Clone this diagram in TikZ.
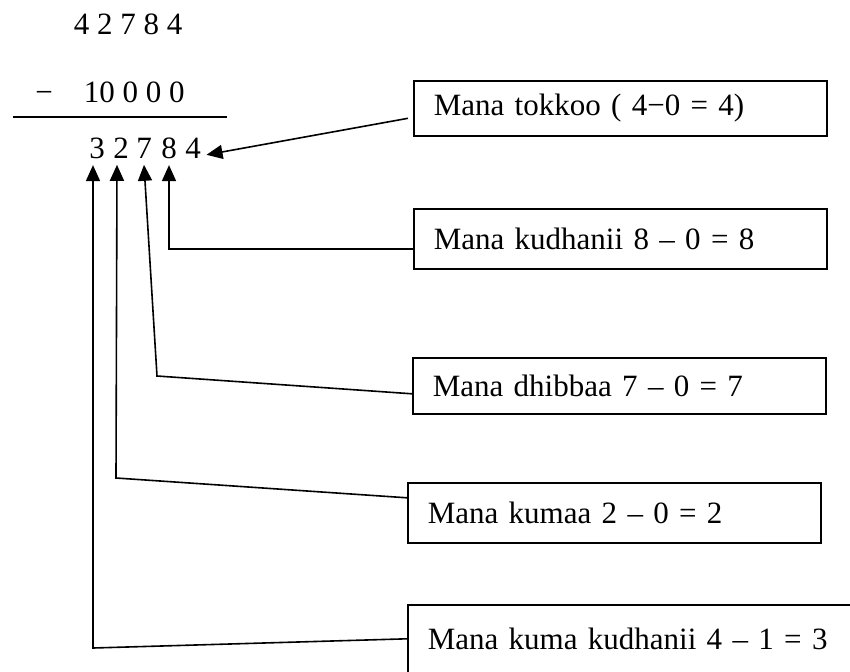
\documentclass[tikz,border=0pt]{standalone}
\usepackage{fontspec}
\setmainfont{Liberation Serif}
\usetikzlibrary{arrows.meta}

\begin{document}
\begin{tikzpicture}[x=1pt,y=-1pt,>={Triangle[length=16pt,width=14pt]},line width=1.6pt,
	font=\fontsize{31}{37}\selectfont,
	digit/.style={inner sep=5pt,anchor=base},
	box/.style={draw,anchor=north west,align=left,inner xsep=20pt,inner ysep=0pt}]
	\useasboundingbox (0,0) rectangle (850,671);
	\clip (0,0) rectangle (850,671);

	\node[anchor=base west,inner sep=0] (top) at (73,35) {4 2 7 8 4};
	\node[anchor=base,inner sep=0] (minus) at (44,103) {−};
	\node[anchor=base west,inner sep=0] (sub) at (83,103) {10 0 0 0};
	\draw (13,117) -- (227,117);
	\foreach \d/\x [count=\i] in {3/97,2/121,7/144,8/169,4/193}
		\node[digit] (r\i) at (\x,159) {\d};

	\node[box,text width=373pt,minimum height=55pt] (tok) at (413,80) {Mana tokkoo ( 4−0 = 4)};
	\node[box,text width=373pt,minimum height=60pt] (kud) at (413,208) {Mana kudhanii 8 – 0 = 8};
	\node[box,text width=373pt,minimum height=56pt] (dhi) at (412,357) {Mana dhibbaa 7 – 0 = 7};
	\node[box,text width=373pt,minimum height=60pt] (kum) at (407,482) {Mana kumaa 2 – 0 = 2};
	\node[box,text width=500pt,minimum height=68pt] (kk) at (407,604) {Mana kuma kudhanii 4 – 1 = 3};

	\coordinate (b7) at (157,376);
	\coordinate (b2) at (116,478);
	\coordinate (b3) at (93,648);

	\draw[->] ([shift={(-5,10)}]tok.west) -- ([yshift=-6pt]r5.east);
	\draw[->] ([yshift=-10pt]kud.west) -| (r4.south);
	\draw[->] ([yshift=-8pt]dhi.west) -- (b7) -- (r3.south);
	\draw[->] ([yshift=15pt]kum.west) -- (b2) -- ([xshift=-4pt]r2.south);
	\draw[->] (kk.west) -- (b3) -- ([xshift=-4pt]r1.south);
\end{tikzpicture}
\end{document}
